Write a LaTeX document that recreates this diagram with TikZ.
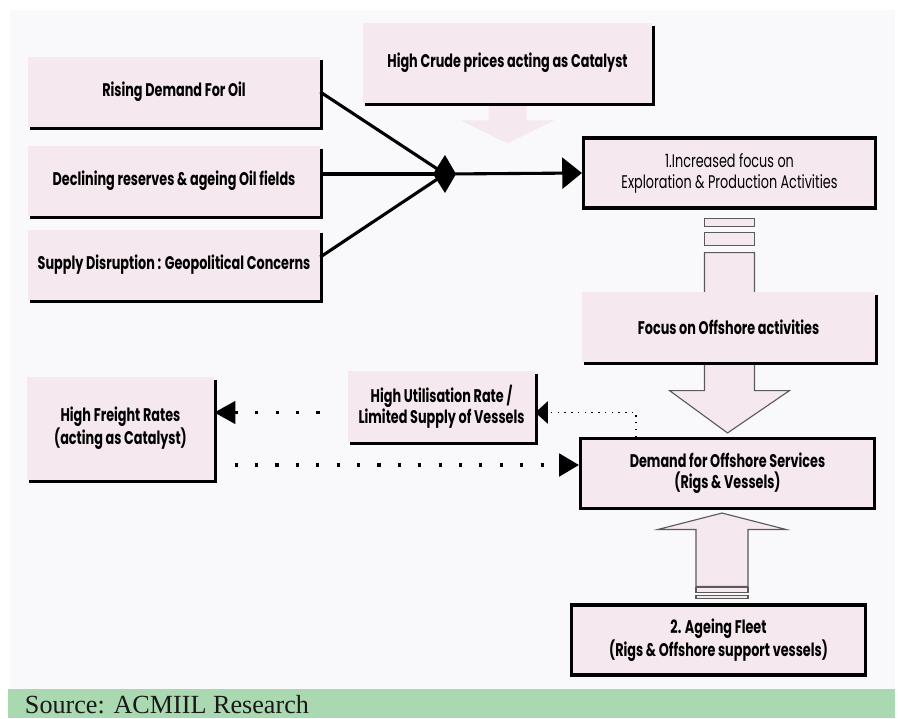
\documentclass[tikz,border=0pt]{standalone}
\usepackage{fontspec}
\setmainfont{Liberation Serif}
\newfontfamily\condfont[FakeStretch=0.7]{Poppins}
\usetikzlibrary{positioning,calc,arrows.meta}
\definecolor{boxpink}{HTML}{F5E9EF}
\definecolor{pagegray}{HTML}{F9F9FB}
\definecolor{srcgreen}{HTML}{AAD8B1}
\definecolor{arrowgray}{HTML}{5A5A5A}
\tikzset{
  shbox/.style={fill=boxpink, inner sep=0pt, align=center,
    font=\condfont\bfseries\fontsize{13}{15}\selectfont},
  thickbox/.style={shbox, draw=black, line width=2.2pt},
  shline/.style={line width=2pt},
  feed/.style={line width=2.2pt},
  bigtip/.style={-{Triangle[length=14pt,width=22pt]}},
  bigdots/.style={line width=2.2pt, dash pattern=on 2.2pt off 12.3pt},
  finedots/.style={line width=1pt, dash pattern=on 1pt off 3.8pt},
  blockarrow/.style={fill=boxpink, draw=arrowgray, line width=0.8pt}
}

\begin{document}
\begin{tikzpicture}[x=0.025cm, y=-0.025cm]
\useasboundingbox (0,0) rectangle (898,718);
\fill[pagegray] (10,10) rectangle (895,689);
\fill[srcgreen] (8,689) rectangle (895,718);

% drivers
\node[shbox, minimum width=7.3cm, minimum height=1.75cm] (rising) at (174,92) {Rising Demand For Oil};
\node[shbox, minimum width=7.3cm, minimum height=1.75cm] (declining) at (174,181) {Declining reserves \& ageing Oil fields};
\node[shbox, minimum width=7.3cm, minimum height=1.75cm] (supply) at (174,265) {Supply Disruption : Geopolitical Concerns};
\node[shbox, minimum width=7.225cm, minimum height=2cm] (crude) at (507.5,63) {High Crude prices acting as Catalyst};

\node[thickbox, font=\condfont\fontsize{13}{15}\selectfont, minimum width=7.3cm, minimum height=1.75cm] (incr) at (729.5,173) {1.Increased focus on\\Exploration \& Production Activities};
\node[thickbox, minimum width=7.35cm, minimum height=1.75cm] (demand) at (727.5,473.5) {Demand for Offshore Services\\(Rigs \& Vessels)};
\node[thickbox, minimum width=7.35cm, minimum height=1.75cm] (ageing) at (718.5,640) {2. Ageing Fleet\\(Rigs \& Offshore support vessels)};

\node[shbox, minimum width=4.675cm, minimum height=1.775cm] (util) at (441.5,406.5) {High Utilisation Rate /\\Limited Supply of Vessels};
\node[shbox, minimum width=4.675cm, minimum height=2.575cm] (freight) at (120.5,428.5) {High Freight Rates\\(acting as Catalyst)};

% catalyst arrow
\fill[boxpink] ($(crude.south)+(-19,0)$) -- ($(crude.south)+(-19,17)$) -- ($(crude.south)+(-47,17)$)
  -- ($(crude.south)+(0,40)$) -- ($(crude.south)+(47,17)$) -- ($(crude.south)+(19,17)$) -- ($(crude.south)+(19,0)$) -- cycle;

% hollow arrow down to demand
\draw[blockarrow] ($(incr.south)+(-25,9)$) rectangle ($(incr.south)+(25,17)$);
\draw[blockarrow] ($(incr.south)+(-25,23)$) rectangle ($(incr.south)+(25,36)$);
\draw[blockarrow] ($(incr.south)+(-25,43)$) -- ($(incr.south)+(-25,181)$) -- ($(incr.south)+(-60,181)$)
  -- ($(demand.north)+(0,-4)$) -- ($(incr.south)+(60,181)$) -- ($(incr.south)+(25,181)$) -- ($(incr.south)+(25,43)$) -- cycle;
\node[shbox, minimum width=7.325cm, minimum height=1.75cm] (focus) at (728.5,327) {Focus on Offshore activities};

% hollow arrow up from ageing fleet
\coordinate (upbase) at ($(ageing.north)+(3.5,0)$);
\draw[blockarrow] ($(upbase)+(-26,-8)$) rectangle ($(upbase)+(26,-5)$);
\draw[blockarrow] ($(upbase)+(-26,-16)$) rectangle ($(upbase)+(26,-11)$);
\draw[blockarrow] ($(upbase)+(-26,-17)$) -- ($(upbase)+(-26,-74)$) -- ($(upbase)+(-64,-74)$)
  -- ($(demand.south -| upbase)+(0,3)$) -- ($(upbase)+(64,-74)$) -- ($(upbase)+(26,-74)$) -- ($(upbase)+(26,-17)$) -- cycle;

\foreach \n in {rising,declining,supply,crude,focus,util,freight}
  \draw[shline] ([shift={(1,3)}]\n.north east) -- ([shift={(1,1)}]\n.south east) -- ([shift={(2,1)}]\n.south west);

% merging lines
\coordinate (junc) at (445,174);
\draw[feed] (rising.east) -- (junc);
\draw[feed] (declining.east |- junc) -- (junc);
\draw[feed] ($(supply.east)+(0,-8)$) -- (junc);
\draw[feed, bigtip] (junc) -- (incr.west);
\fill ($(junc)+(-12,0)$) -- ($(junc)+(0,-19)$) -- ($(junc)+(11,0)$) -- ($(junc)+(0,19)$) -- cycle;

% dotted feedback
\coordinate (utilout) at ($(util.west)+(0,6)$);
\coordinate (frout) at ($(freight.east)+(0,36.5)$);
\draw[finedots, -{Triangle[length=9pt,width=16pt]}] ($(demand.north west)+(57,0)$) |- ($(util.east)+(0,6)$);
\draw[bigdots, -{Triangle[length=15pt,width=16pt]}, shorten <=20pt] (utilout) -- (freight.east |- utilout);
\draw[bigdots, -{Triangle[length=14pt,width=16pt]}] (frout) -- (demand.west |- frout);

\node[anchor=base west, font=\fontsize{18.6}{20}\selectfont, text=black!90] (source) at (20,713) {Source: ACMIIL Research};
\end{tikzpicture}
\end{document}
